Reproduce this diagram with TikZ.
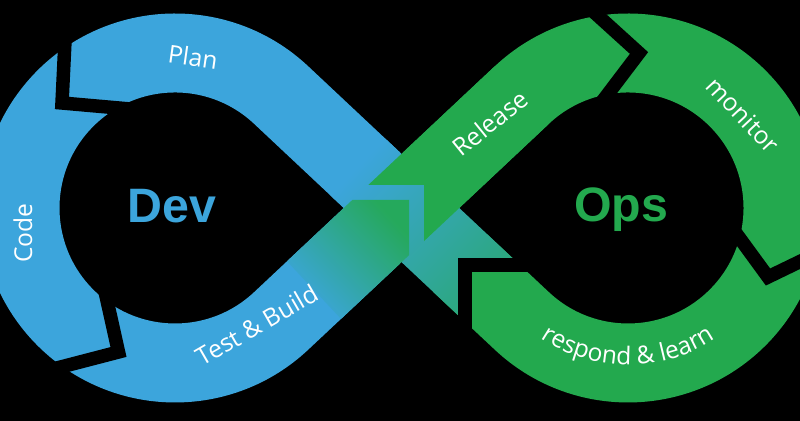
\documentclass[tikz,border=0pt]{standalone}
\usepackage{fontspec}
\setmainfont{Open Sans}
\newfontfamily\hubfont{Liberation Sans}
\usetikzlibrary{decorations.text}
\definecolor{devblue}{RGB}{60,165,220}
\definecolor{opsgreen}{RGB}{35,169,78}
\newcommand\arcfont{\fontsize{14}{16}\selectfont}
\tikzset{
  band/.style={line width=1.58cm},
  notch/.style={black,line width=0.27cm,line join=miter},
  lab/.style={text=white,font=\arcfont},
  hub/.style={font=\hubfont\bfseries\fontsize{27.5}{30}\selectfont,anchor=base},
}
\begin{document}
\begin{tikzpicture}[x=0.02cm,y=-0.02cm]
  \path[use as bounding box] (0,0) rectangle (800,421);
  \fill[black] (0,0) rectangle (800,421);
  \clip (0,0) rectangle (800,421);
  \coordinate (devc) at (175,208);
  \coordinate (opsc) at (628,208);

  % the two loops
  \draw[band,opsgreen] (430.7,180.6) -- (521.9,95)
    arc[start angle=-133.2,end angle=133.2,radius=155] -- (459.8,262.8);
  \draw[band,devblue] (372.3,180.6) -- (281.1,95)
    arc[start angle=-46.8,end angle=-313.2,radius=155] -- (372.3,235.4);

  % crossing
  \shade[left color=devblue,middle color=devblue,right color=opsgreen!70!devblue,shading angle=46.8]
    (330.7,195.7) -- (384.7,138.1) -- (520,265) -- (465,265) -- (465,321.7) -- cycle;
  \shade[left color=devblue,middle color=devblue!90!opsgreen,right color=opsgreen!90!devblue,shading angle=133.2]
    (287,261.3) -- (352.3,200) -- (409,200) -- (409,255.2) -- (341,318.9) -- cycle;
  \fill[opsgreen] (368.3,185) -- (424,185) -- (424,241.1) -- (548.9,123.8) -- (494.9,66.2) -- cycle;

  % arrow joints
  \draw[notch] (66,20) -- (62,103) -- (130,109);
  \draw[notch] (102,278) -- (118.5,352) -- (30,375);
  \draw[notch] (585,4) -- (639,53) -- (595,111);
  \draw[notch] (730,225) -- (768,277) -- (830,247);
  \draw[notch] (465,345) -- (465,265) -- (540,265);

  \node[hub,text=devblue] (dev) at (172,223) {Dev};
  \node[hub,text=opsgreen] (ops) at (621,222) {Ops};
  \node[lab,rotate=-8] (plan) at (193,57) {Plan};
  \node[lab,rotate=90] (code) at (23,233) {Code};
  \node[lab,rotate=30] (build) at (257,325) {Test \& Build};
  \node[lab,rotate=39] (release) at (490,123) {Release};
  \node[lab,rotate=-47] (monitor) at (743,115) {monitor};
  \path[decorate,decoration={text along path,text align=center,text color=white,
      text={|\arcfont|respond {\&} learn}}]
    ([shift={(140:157)}]opsc) arc[start angle=140,end angle=40,radius=157];
\end{tikzpicture}
\end{document}
